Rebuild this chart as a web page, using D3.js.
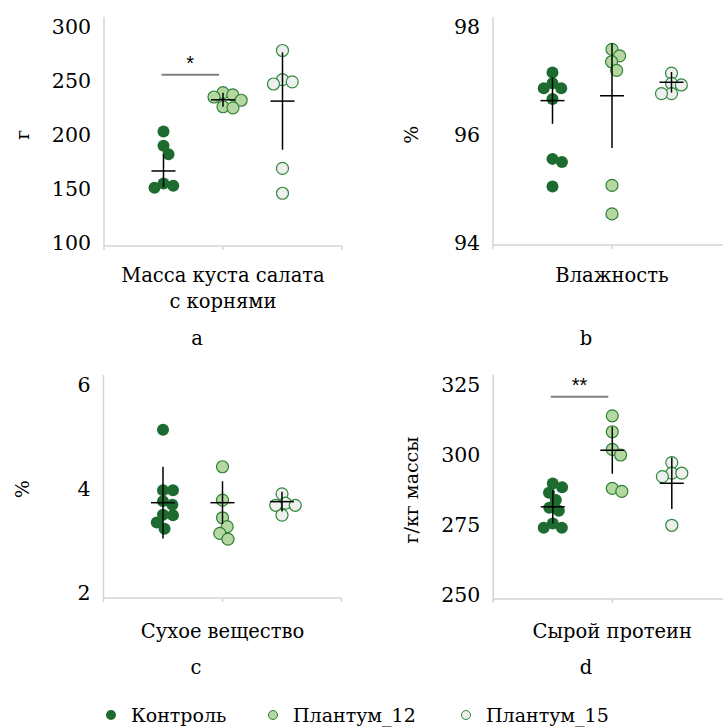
<!DOCTYPE html>
<html>
<head>
<meta charset="utf-8">
<script src="https://cdn.jsdelivr.net/npm/d3@7"></script>
<style>
  body { margin: 0; background: #fff; }
</style>
</head>
<body>
<div id="chart"></div>
<script>
var groups = ["Контроль", "Плантум_12", "Плантум_15"];

// a: масса куста
var massControl = [203, 190, 182, 155, 151, 153];
var massP12 = [239, 235, 237, 232, 225, 226];
var massP15 = [278, 247, 251, 249, 169, 146];
var massMean = [166.6, 232.4, 231.2];
var massErr = [15, 6.5, 45];

// b: влажность
var moistControl = [97.15, 96.95, 96.86, 96.86, 96.66, 95.55, 95.49, 95.04];
var moistP12 = [97.58, 97.46, 97.35, 97.19, 95.06, 94.53];
var moistP15 = [97.14, 96.95, 96.92, 96.76, 96.76];
var moistMean = [96.63, 96.72, 96.97];
var moistErr = [0.43, 0.97, 0.19];

// c: сухое вещество
var dryControl = [5.14, 3.98, 3.98, 3.70, 3.77, 3.51, 3.50, 3.36, 3.24];
var dryP12 = [4.43, 3.79, 3.45, 3.28, 3.15, 3.04];
var dryP15 = [3.91, 3.73, 3.69, 3.69, 3.50];
var dryMean = [3.74, 3.74, 3.76];
var dryErr = [0.69, 0.41, 0.19];

// d: сырой протеин
var protControl = [289.8, 288.5, 286.5, 283.9, 281.2, 280.1, 275.5, 274.0, 274.0];
var protP12 = [314.0, 308.3, 302.0, 300.0, 288.1, 287.0];
var protP15 = [297.3, 293.5, 293.5, 292.3, 274.9];
var protMean = [281.5, 301.7, 289.9];
var protErr = [6, 8.4, 9.2];

var panels = [
  {left: 104, top: 26.7, bottom: 243, lineTop: 17, lineBottom: 246, domain: [100, 300], ticks: [100, 150, 200, 250, 300],
   data: [massControl, massP12, massP15], mean: massMean, err: massErr, ytitle: "г",
   cat: ["Масса куста салата", "с корнями"], catY: 275, letter: "a", letterX: 197, letterY: 338,
   sig: {v: 255.6, text: "*", from: 0, to: 1}},
  {left: 493, top: 26.7, bottom: 242.5, lineTop: 17, lineBottom: 245, domain: [94, 98], ticks: [94, 96, 98],
   data: [moistControl, moistP12, moistP15], mean: moistMean, err: moistErr, ytitle: "%",
   cat: ["Влажность"], catY: 275, letter: "b", letterX: 586, letterY: 338},
  {left: 103.5, top: 385, bottom: 593.3, lineTop: 375, lineBottom: 598, domain: [2, 6], ticks: [2, 4, 6],
   data: [dryControl, dryP12, dryP15], mean: dryMean, err: dryErr, ytitle: "%",
   cat: ["Сухое вещество"], catY: 631, letter: "c", letterX: 196, letterY: 667},
  {left: 493.3, top: 385, bottom: 595, lineTop: 375, lineBottom: 599, domain: [250, 325], ticks: [250, 275, 300, 325],
   data: [protControl, protP12, protP15], mean: protMean, err: protErr, ytitle: "г/кг массы",
   cat: ["Сырой протеин"], catY: 631, letter: "d", letterX: 586, letterY: 667,
   sig: {v: 320.8, text: "**", from: 0, to: 1}}
];

var fills = ["#1e6b30", "#b5d8a0", "#efefef"];
var strokes = ["#1e6b30", "#2f7f3a", "#2f8a3c"];
var R = 6;
var SERIF = "'DejaVu Serif', serif";

// simple beeswarm: keep y exact, push x sideways until no overlap
function swarm(values, y) {
  var d = 2 * R - 2;
  var pts = values.map(function(v) { return {v: v, y: y(v)}; })
    .sort(function(a, b) { return a.y - b.y; });
  var placed = [];
  pts.forEach(function(p) {
    var cands = [0];
    placed.forEach(function(q) {
      var dy = Math.abs(q.y - p.y);
      if (dy < d) {
        var dx = Math.sqrt(d * d - dy * dy);
        cands.push(q.dx + dx, q.dx - dx);
      }
    });
    cands.sort(function(a, b) { return Math.abs(a) - Math.abs(b); });
    p.dx = cands.find(function(c) {
      return placed.every(function(q) { return Math.hypot(q.dx - c, q.y - p.y) >= d - 1e-6; });
    });
    placed.push(p);
  });
  return placed;
}

var svg = d3.select("#chart").append("svg")
  .attr("width", 723).attr("height", 727)
  .style("font-family", SERIF);

function label(sel, size) {
  return sel.style("font-family", SERIF).style("font-size", size + "px").attr("fill", "#000");
}

panels.forEach(function(pn) {
  var g = svg.append("g");
  var x = d3.scalePoint().domain(groups).range([pn.left, pn.left + 238]).padding(1);
  var y = d3.scaleLinear().domain(pn.domain).range([pn.bottom, pn.top]);

  // y axis line + labels
  g.append("line")
    .attr("x1", pn.left).attr("x2", pn.left)
    .attr("y1", pn.lineTop).attr("y2", pn.lineBottom)
    .attr("stroke", "#d4d4d4").attr("stroke-width", 1.5);
  label(g.selectAll(".tick").data(pn.ticks).enter().append("text"), 20.5)
    .attr("x", pn.left - 13).attr("y", function(d) { return y(d); })
    .attr("text-anchor", "end").attr("dominant-baseline", "central")
    .text(function(d) { return d; });

  // x axis line with ticks at edges and middle
  g.append("line")
    .attr("x1", pn.left).attr("x2", pn.left + 238)
    .attr("y1", pn.lineBottom).attr("y2", pn.lineBottom)
    .attr("stroke", "#d4d4d4").attr("stroke-width", 1.5);
  g.selectAll(".xt").data([0, 0.5, 1]).enter().append("line")
    .attr("x1", function(d) { return pn.left + 238 * d; })
    .attr("x2", function(d) { return pn.left + 238 * d; })
    .attr("y1", pn.lineBottom).attr("y2", pn.lineBottom + 4)
    .attr("stroke", "#d4d4d4").attr("stroke-width", 1.5);

  // y title
  var midY = (pn.top + pn.bottom) / 2;
  label(g.append("text"), 19)
    .attr("transform", "translate(" + (pn.left - 82) + "," + midY + ") rotate(-90)")
    .attr("text-anchor", "middle").attr("dominant-baseline", "central")
    .text(pn.ytitle);

  // category label and panel letter
  var cx = pn.left + 119;
  pn.cat.forEach(function(t, i) {
    label(g.append("text"), 19.5)
      .attr("x", cx).attr("y", pn.catY + i * 26)
      .attr("text-anchor", "middle").attr("dominant-baseline", "central")
      .text(t);
  });
  label(g.append("text"), 19.5)
    .attr("x", pn.letterX).attr("y", pn.letterY)
    .attr("text-anchor", "middle").attr("dominant-baseline", "central")
    .text(pn.letter);

  // points
  pn.data.forEach(function(vals, gi) {
    var pts = swarm(vals, y);
    g.selectAll(".p" + gi).data(pts).enter().append("circle")
      .attr("cx", function(d) { return x(groups[gi]) + d.dx; })
      .attr("cy", function(d) { return d.y; })
      .attr("r", R)
      .attr("fill", fills[gi])
      .attr("stroke", strokes[gi])
      .attr("stroke-width", gi === 0 ? 0 : 1.2);
  });

  // mean + error bars
  groups.forEach(function(grp, gi) {
    var gx = x(grp);
    g.append("line")
      .attr("x1", gx).attr("x2", gx)
      .attr("y1", y(pn.mean[gi] + pn.err[gi])).attr("y2", y(pn.mean[gi] - pn.err[gi]))
      .attr("stroke", "#000").attr("stroke-width", 1.5);
    g.append("line")
      .attr("x1", gx - 12).attr("x2", gx + 12)
      .attr("y1", y(pn.mean[gi])).attr("y2", y(pn.mean[gi]))
      .attr("stroke", "#000").attr("stroke-width", 1.5);
  });

  // significance bracket
  if (pn.sig) {
    var x1 = x(groups[pn.sig.from]), x2 = x(groups[pn.sig.to]);
    g.append("line")
      .attr("x1", x1 - 2).attr("x2", x2 - 4)
      .attr("y1", y(pn.sig.v)).attr("y2", y(pn.sig.v))
      .attr("stroke", "#7f7f7f").attr("stroke-width", 2);
    g.append("text")
      .attr("x", (x1 + x2) / 2 - 3).attr("y", y(pn.sig.v) - 5)
      .attr("text-anchor", "middle")
      .style("font-size", "20px").style("font-family", "'Liberation Sans', Arial, sans-serif").attr("fill", "#000")
      .text(pn.sig.text);
  }
});

// legend
var legendX = [111, 273, 466];
var legend = svg.append("g");
groups.forEach(function(grp, gi) {
  legend.append("circle")
    .attr("cx", legendX[gi]).attr("cy", 715)
    .attr("r", gi === 0 ? 5 : 4.5)
    .attr("fill", fills[gi]).attr("stroke", strokes[gi])
    .attr("stroke-width", gi === 0 ? 0 : 1);
  label(legend.append("text"), 19)
    .attr("x", legendX[gi] + 20).attr("y", 715)
    .attr("dominant-baseline", "central")
    .text(grp);
});
</script>
</body>
</html>
